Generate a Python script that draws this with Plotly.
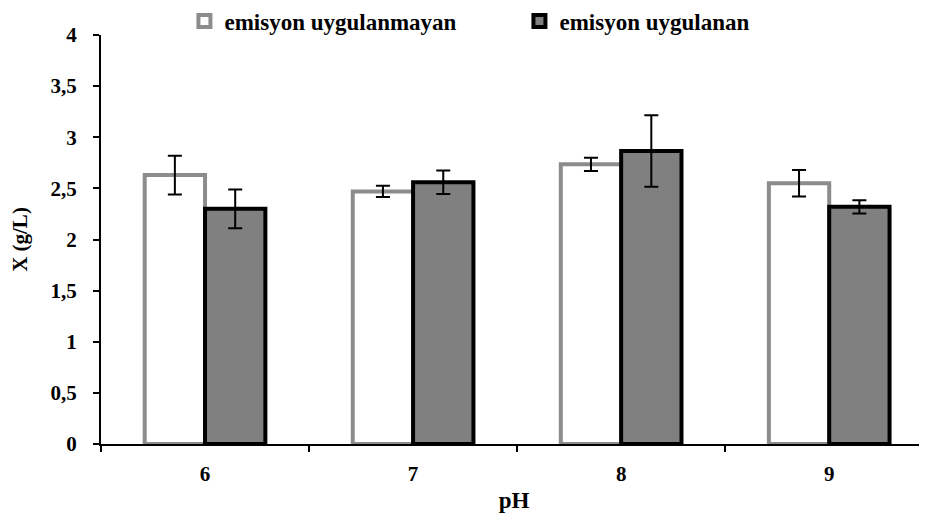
import plotly.graph_objects as go

categories = ["6", "7", "8", "9"]
series_names = ["emisyon uygulanmayan", "emisyon uygulanan"]
values_no = [2.63, 2.47, 2.735, 2.55]
err_no = [0.19, 0.055, 0.065, 0.13]
values_yes = [2.30, 2.56, 2.865, 2.32]
err_yes = [0.19, 0.115, 0.35, 0.065]
y_ticks = [0, 0.5, 1, 1.5, 2, 2.5, 3, 3.5, 4]
y_tick_labels = ["0", "0,5", "1", "1,5", "2", "2,5", "3", "3,5", "4"]

FONT = "Liberation Serif"

fig = go.Figure()
fig.add_trace(go.Bar(
    x=categories, y=values_no, name=series_names[0],
    marker=dict(color="white", line=dict(color="#8c8c8c", width=4)),
    error_y=dict(type="data", array=err_no, color="black", thickness=2, width=7),
))
fig.add_trace(go.Bar(
    x=categories, y=values_yes, name=series_names[1],
    marker=dict(color="#808080", line=dict(color="black", width=4)),
    error_y=dict(type="data", array=err_yes, color="black", thickness=2, width=7),
))

fig.update_layout(
    width=919, height=513,
    margin=dict(l=93, r=0, t=27, b=77, autoexpand=False),
    paper_bgcolor="white", plot_bgcolor="white",
    barmode="group", bargap=0.42, bargroupgap=0,
    font=dict(family=FONT, color="black"),
    showlegend=True,
    legend=dict(orientation="h", x=0.101, xanchor="left", y=1.0 + 14/409, yanchor="middle",
                font=dict(family=FONT, size=23, color="black", weight="bold"),
                entrywidth=290, entrywidthmode="pixels",
                tracegroupgap=0, bgcolor="rgba(0,0,0,0)"),
    xaxis=dict(
        type="category", range=[-0.5, 3.47],
        showline=True, linecolor="black", linewidth=2,
        ticks="outside", tickson="boundaries", ticklen=6, tickcolor="black", tickwidth=2,
        tickfont=dict(family=FONT, size=21, color="black", weight="bold"),
        ticklabelstandoff=10,
        title=dict(text="pH", font=dict(family=FONT, size=23, color="black", weight="bold"), standoff=7),
        showgrid=False, zeroline=False,
    ),
    yaxis=dict(
        range=[0, 4], tickvals=y_ticks, ticktext=y_tick_labels,
        showline=True, linecolor="black", linewidth=2,
        ticks="outside", ticklen=6, tickcolor="black", tickwidth=2,
        tickfont=dict(family=FONT, size=21, color="black", weight="bold"),
        ticklabelstandoff=12,
        title=dict(text="X (g/L)", font=dict(family=FONT, size=21, color="black", weight="bold"), standoff=18),
        showgrid=False, zeroline=False,
    ),
)

fig.write_html("out.html")
